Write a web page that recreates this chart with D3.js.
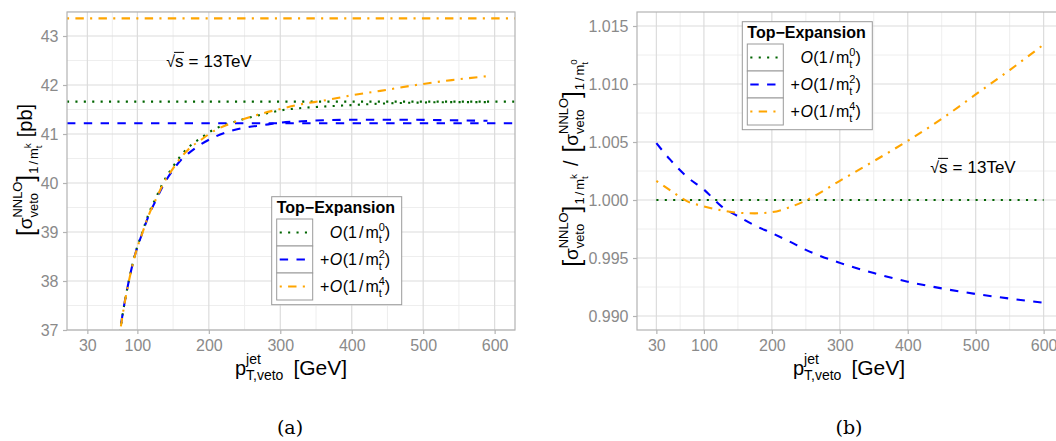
<!DOCTYPE html>
<html><head><meta charset="utf-8">
<script src="https://cdn.jsdelivr.net/npm/d3@7"></script>
<style>body{margin:0;background:#fff;overflow:hidden}</style>
</head><body><svg id="c" width="1056" height="441"></svg>
<script>
// ---------------- data ----------------
const ptLeft   = [70, 76, 82, 88, 97, 107, 116, 126, 135, 150, 161, 171, 189, 208, 230, 250, 275, 300, 330, 360, 400, 440, 490, 540, 590];
const sigmaM0  = [36.45, 37.0, 37.55, 38.0, 38.56, 39.0, 39.38, 39.70, 39.98, 40.34, 40.56, 40.72, 40.92, 41.10, 41.22, 41.31, 41.40, 41.48, 41.53, 41.56, 41.59, 41.62, 41.64, 41.65, 41.65];
const sigmaM2  = [36.47, 37.02, 37.55, 38.0, 38.55, 38.98, 39.34, 39.65, 39.92, 40.27, 40.47, 40.60, 40.79, 40.94, 41.06, 41.13, 41.18, 41.23, 41.26, 41.28, 41.29, 41.29, 41.29, 41.28, 41.27];
const sigmaM4  = [36.44, 36.99, 37.54, 37.99, 38.54, 38.98, 39.35, 39.67, 39.95, 40.30, 40.52, 40.68, 40.88, 41.07, 41.21, 41.31, 41.42, 41.51, 41.61, 41.68, 41.79, 41.88, 42.00, 42.10, 42.18];
const totalM0 = 41.66, totalM2 = 41.22, totalM4 = 43.36;

const ptRight  = [30, 50, 75, 100, 125, 150, 175, 200, 225, 250, 300, 350, 400, 450, 500, 550, 600];
const ratioM0  = [1, 1, 1, 1, 1, 1, 1, 1, 1, 1, 1, 1, 1, 1, 1, 1, 1];
const ratioM2  = [1.0049, 1.0035, 1.0020, 1.0009, 0.9995, 0.9986, 0.9978, 0.99715, 0.99645, 0.9957, 0.99458, 0.9937, 0.99296, 0.99238, 0.9919, 0.9915, 0.99115];
const ratioM4  = [1.00164, 1.00085, 0.9999, 0.99945, 0.99912, 0.9989, 0.99885, 0.99895, 0.99935, 0.99995, 1.00165, 1.00335, 1.0051, 1.0070, 1.0091, 1.0112, 1.0134];

const xTicks = [30, 100, 200, 300, 400, 500, 600];
const xMinorTicks = [65, 150, 250, 350, 450, 550];
const leftYTicks = [37, 38, 39, 40, 41, 42, 43];
const leftYMinor = [37.5, 38.5, 39.5, 40.5, 41.5, 42.5, 43.5];
const rightYTicks = [0.990, 0.995, 1.000, 1.005, 1.010, 1.015];
const rightYMinor = [0.9925, 0.9975, 1.0025, 1.0075, 1.0125];
const legendTitle = "Top\u2212Expansion";
const annotation = "13TeV";

// ---------------- style ----------------
const FONT = "'Liberation Sans', Arial, sans-serif";
const LW = 2.1;
const styles = [
  {color: "#006400", dash: `${LW},${3*LW}`},
  {color: "#0000ff", dash: `${4*LW},${4*LW}`},
  {color: "#ffa500", dash: `${LW},${3*LW},${4*LW},${3*LW}`}
];
const svg = d3.select("#c");
svg.append("rect").attr("width",1056).attr("height",441).attr("fill","#fff");

// rich text helper
function rich(parent, pieces) {
  const g = parent.append("g");
  let x = 0;
  pieces.forEach(p => {
    if (p.gap && !p.t && !p.stack) { x += p.gap; return; }
    const items = p.stack ? p.stack : [p];
    let w = 0;
    items.forEach(it => {
      const tx = g.append("text").attr("x", x).attr("y", it.dy || 0)
        .attr("font-family", it.ff || FONT).attr("font-size", it.fs || 16)
        .style("font-style", it.it ? "italic" : "normal")
        .style("font-weight", it.bold ? "bold" : "normal")
        .attr("fill", it.fill || "#000").text(it.t);
      const tw = tx.node().getComputedTextLength();
      if (it.ol) {
        const fs = it.fs || 16;
        g.append("line").attr("x1", x - 1).attr("x2", x + tw + 0.5)
          .attr("y1", (it.dy||0) - fs*0.86).attr("y2", (it.dy||0) - fs*0.86)
          .attr("stroke", "#000").attr("stroke-width", 1);
      }
      w = Math.max(w, tw);
    });
    x += w + (p.after || 0);
  });
  return {g, width: x};
}

function sigmaPieces(fs, kSup) {
  const s = fs * 0.68, ss = fs * 0.52;
  return [
    {t:"[", fs: fs*1.3, dy: fs*0.12},
    {t:"\u03c3", fs: fs},
    {stack:[{t:"NNLO", fs:s, dy:-fs*0.55},{t:"veto", fs:s, dy:fs*0.3}]},
    {t:"]", fs: fs*1.3, dy: fs*0.12, after:1},
    {t:"1", fs:s, dy:fs*0.33, after:2},
    {t:"/", fs:s, dy:fs*0.33, after:2},
    {t:"m", fs:s, dy:fs*0.33},
    {stack:[{t:kSup, fs:ss, dy:-fs*0.05},{t:"t", fs:ss, dy:fs*0.55}]}
  ];
}

function panel(cfg) {
  const x = d3.scaleLinear().domain([1.5, 628.5]).range([cfg.x0, cfg.x1]);
  const y = d3.scaleLinear().domain(cfg.yDomain).range([cfg.y1, cfg.y0]);
  const id = "clip" + cfg.name;
  svg.append("clipPath").attr("id", id).append("rect")
    .attr("x", cfg.x0).attr("y", cfg.y0).attr("width", cfg.x1 - cfg.x0).attr("height", cfg.y1 - cfg.y0);
  const grid = svg.append("g");
  grid.selectAll(".vm").data(xMinorTicks).join("line")
    .attr("x1", d=>x(d)).attr("x2", d=>x(d)).attr("y1", cfg.y0).attr("y2", cfg.y1)
    .attr("stroke", "#ececec").attr("stroke-width", 0.9);
  grid.selectAll(".hm").data(cfg.yMinor).join("line")
    .attr("x1", cfg.x0).attr("x2", cfg.x1).attr("y1", d=>y(d)).attr("y2", d=>y(d))
    .attr("stroke", "#ececec").attr("stroke-width", 0.9);
  grid.selectAll(".vM").data(xTicks).join("line")
    .attr("x1", d=>x(d)).attr("x2", d=>x(d)).attr("y1", cfg.y0).attr("y2", cfg.y1)
    .attr("stroke", "#dcdcdc").attr("stroke-width", 1.2);
  grid.selectAll(".hM").data(cfg.yTicks).join("line")
    .attr("x1", cfg.x0).attr("x2", cfg.x1).attr("y1", d=>y(d)).attr("y2", d=>y(d))
    .attr("stroke", "#dcdcdc").attr("stroke-width", 1.2);

  const plot = svg.append("g").attr("clip-path", `url(#${id})`);
  (cfg.hlines || []).forEach((v, i) => {
    plot.append("line").attr("x1", cfg.x0).attr("x2", cfg.x1).attr("y1", y(v)).attr("y2", y(v))
      .attr("stroke", styles[i].color).attr("stroke-width", LW).attr("stroke-dasharray", styles[i].dash);
  });
  const line = d3.line().x(d=>x(d[0])).y(d=>y(d[1])).curve(d3.curveMonotoneX);
  cfg.series.forEach((vals, i) => {
    plot.append("path").datum(cfg.pt.map((p, j) => [p, vals[j]]))
      .attr("d", line).attr("fill", "none")
      .attr("stroke", styles[i].color).attr("stroke-width", LW).attr("stroke-dasharray", styles[i].dash);
  });
  svg.append("rect").attr("x", cfg.x0).attr("y", cfg.y0).attr("width", cfg.x1 - cfg.x0).attr("height", cfg.y1 - cfg.y0)
    .attr("fill", "none").attr("stroke", "#b3b3b3").attr("stroke-width", 1.2);

  const ax = svg.append("g").attr("transform", `translate(0,${cfg.y1})`)
    .call(d3.axisBottom(x).tickValues(xTicks).tickSize(4).tickPadding(6).tickFormat(d3.format("d")));
  const ay = svg.append("g").attr("transform", `translate(${cfg.x0},0)`)
    .call(d3.axisLeft(y).tickValues(cfg.yTicks).tickSize(4).tickPadding(4.5).tickFormat(cfg.fmt));
  [ax, ay].forEach(a => {
    a.select(".domain").remove();
    a.selectAll(".tick line").attr("stroke", "#b3b3b3").attr("stroke-width", 1.2);
    a.selectAll(".tick text").attr("fill", "#8a8a8a").attr("font-size", 16).attr("font-family", FONT);
  });
  return {x, y};
}

// ---------------- left panel ----------------
const L = panel({name:"L", x0:67, x1:515, y0:12, y1:330, yDomain:[37, 37 + 318/49],
  yTicks:leftYTicks, yMinor:leftYMinor, fmt:d3.format("d"),
  hlines:[totalM0, totalM2, totalM4], pt:ptLeft, series:[sigmaM0, sigmaM2, sigmaM4]});

// ---------------- right panel ----------------
const R = panel({name:"R", x0:637, x1:1063, y0:12, y1:330, yDomain:[1 - 130/11600, 1 + 188/11600],
  yTicks:rightYTicks, yMinor:rightYMinor, fmt:d3.format(".3f"),
  pt:ptRight, series:[ratioM0, ratioM2, ratioM4]});

// ---------------- annotations ----------------
function sqrtS(cx, by) {
  const r = rich(svg, [{t:"\u221a", fs:16, after:0},{t:"s", fs:17, ol:true, after:5},{t:"=", fs:17, after:5},{t:annotation, fs:17}]);
  r.g.attr("transform", `translate(${cx - r.width/2},${by})`);
}
sqrtS(209, 67);
sqrtS(973, 173);

// ---------------- legends ----------------
function legend(bx, by) {
  const g = svg.append("g").attr("transform", `translate(${bx},${by})`);
  g.append("rect").attr("width", 130).attr("height", 108).attr("fill", "#fff").attr("stroke", "#9a9a9a").attr("stroke-width", 1);
  g.append("text").attr("x", 5).attr("y", 16.5).attr("font-family", FONT).attr("font-size", 16)
    .attr("font-weight", "bold").attr("fill", "#000").text(legendTitle);
  const sups = ["0", "2", "4"];
  styles.forEach((s, i) => {
    const ky = 22.3 + i * 27;
    g.append("rect").attr("x", 5).attr("y", ky).attr("width", 36).attr("height", 27)
      .attr("fill", "#fff").attr("stroke", "#9a9a9a").attr("stroke-width", 1);
    g.append("line").attr("x1", 8).attr("x2", 38).attr("y1", ky + 13.5).attr("y2", ky + 13.5)
      .attr("stroke", s.color).attr("stroke-width", LW).attr("stroke-dasharray", s.dash);
    const pieces = [];
    if (i > 0) pieces.push({t:"+", fs:16, after:0.5});
    pieces.push({t:"O", fs:16, it:true, after:0.5}, {t:"(1", fs:16, after:2}, {t:"/", fs:16, after:2}, {t:"m", fs:16},
      {stack:[{t:sups[i], fs:11, dy:-7},{t:"t", fs:11, dy:5}]}, {t:")", fs:16});
    const r = rich(g, pieces);
    r.g.attr("transform", `translate(${118.5 - r.width},${ky + 18.5})`);
  });
}
legend(271.7, 196.7);
legend(742.3, 21.7);

// ---------------- axis titles ----------------
function xTitle(cx) {
  const r = rich(svg, [{t:"p", fs:20},{stack:[{t:"jet", fs:14, dy:-11},{t:"T,veto", fs:14, dy:5}], after:10},{t:"[GeV]", fs:21}]);
  r.g.attr("transform", `translate(${cx - r.width/2},375)`);
}
xTitle(291);
xTitle(849);

{
  const r = rich(svg, [...sigmaPieces(19, "k"), {gap:6}, {t:"[pb]", fs:20}]);
  r.g.attr("transform", `translate(32,170) rotate(-90) translate(${-r.width/2},0)`);
}
{
  const r = rich(svg, [...sigmaPieces(19, "k"), {gap:8}, {t:"/", fs:20, after:8}, ...sigmaPieces(19, "0")]);
  r.g.attr("transform", `translate(578,163) rotate(-90) translate(${-r.width/2},0)`);
}

// ---------------- captions ----------------
svg.append("text").attr("x", 290).attr("y", 434).attr("text-anchor", "middle")
  .attr("font-family", "'DejaVu Serif', 'Liberation Serif', serif").attr("font-size", 19).attr("fill", "#000").text("(a)");
svg.append("text").attr("x", 849).attr("y", 434).attr("text-anchor", "middle")
  .attr("font-family", "'DejaVu Serif', 'Liberation Serif', serif").attr("font-size", 19).attr("fill", "#000").text("(b)");
</script></body></html>
